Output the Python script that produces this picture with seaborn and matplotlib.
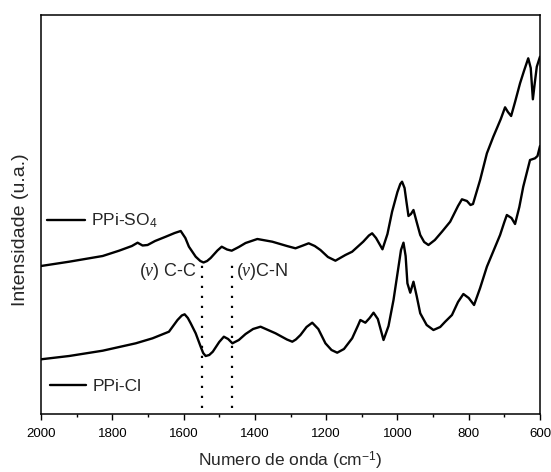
import numpy as np
import pandas as pd
import matplotlib
matplotlib.use("Agg")
import matplotlib.pyplot as plt
import seaborn as sns
from matplotlib.ticker import MultipleLocator

# ---------------- data ----------------
so4_wavenumber = [2000, 1921, 1827, 1781, 1745, 1729, 1715, 1701, 1680, 1650, 1625, 1608,
                  1595, 1585, 1566, 1553, 1544, 1534, 1524, 1505, 1493, 1478, 1465, 1445,
                  1426, 1393, 1351, 1310, 1286, 1265, 1249, 1232, 1216, 1195, 1174, 1146,
                  1127, 1096, 1080, 1071, 1060, 1042, 1028, 1015, 1000, 992, 987, 980,
                  975, 969, 962, 955, 946, 936, 925, 913, 895, 875, 852, 830, 819,
                  805, 795, 788, 768, 749, 731, 721, 710, 698, 690, 681, 670, 656, 645,
                  633, 626, 620, 615, 609, 600]
so4_intensity = [148, 152.3, 158, 163.3, 168, 171.3, 168.5, 169, 173, 177.3, 181, 183,
                 176, 167.3, 157.3, 153, 151.5, 153, 156, 163.5, 167.3, 164.5, 163.3, 167,
                 171, 175, 172.3, 168, 165.7, 168.5, 170.7, 168, 164, 157, 153.3, 159,
                 162.3, 172.3, 178.5, 180.7, 176, 164.7, 180, 202.3, 222, 230, 232.3, 226,
                 213, 198, 200, 204, 192, 179, 172, 169, 174, 182.3, 192.3, 208, 214.7,
                 213, 209, 210, 234, 260.7, 277.3, 285.7, 295, 306.7, 302, 298, 312, 330.7, 343,
                 355.7, 346, 314.7, 330, 347.3, 357.3]

cl_wavenumber = [2000, 1921, 1827, 1734, 1687, 1641, 1617, 1605, 1597, 1588, 1580, 1566,
                 1552, 1545, 1538, 1528, 1518, 1500, 1487, 1475, 1463, 1445, 1426, 1405, 1384,
                 1342, 1310, 1295, 1285, 1272, 1255, 1239, 1222, 1202, 1185, 1169, 1150, 1127,
                 1110, 1104, 1090, 1078, 1067, 1055, 1039, 1025, 1011, 997, 990, 983,
                 977, 972, 964, 955, 946, 936, 918, 899, 880, 866, 847, 830, 815,
                 800, 785, 768, 749, 712, 700, 693, 680, 670, 658, 647, 628, 614, 607, 600]
cl_intensity = [54.7, 58, 63.3, 70.7, 75.7, 82.3, 94, 98.5, 99.7, 96, 90.7, 80.7,
                67.3, 61, 58, 59, 62.3, 72, 77.3, 75, 70.7, 74, 80, 85, 87.3,
                80.7, 74.5, 72.3, 74.5, 79, 87, 91.3, 85, 70.7, 64, 61.3, 65, 75.7,
                89, 94, 91.3, 96, 101.3, 95, 74, 88, 114, 147.3, 164, 171.3,
                158, 130.7, 121.3, 132.3, 118, 100.7, 89, 84, 87, 92.3, 99, 112, 120,
                116, 109, 126, 147.3, 179, 192, 199, 196, 190, 207, 227.3, 254, 255.7, 258, 268]

series_labels = ["PPi-SO$_4$", "PPi-Cl"]
band_positions = [1547, 1465]
band_labels = [r"($\nu$) C-C", r"($\nu$)C-N"]
x_ticks = [2000, 1800, 1600, 1400, 1200, 1000, 800, 600]

df = pd.concat([
    pd.DataFrame({"w": so4_wavenumber, "I": so4_intensity, "s": series_labels[0]}),
    pd.DataFrame({"w": cl_wavenumber, "I": cl_intensity, "s": series_labels[1]}),
])

# ---------------- style ----------------
sns.set_style("white")
plt.rcParams["font.family"] = ["Liberation Sans", "DejaVu Sans"]
plt.rcParams["mathtext.fontset"] = "custom"
plt.rcParams["mathtext.rm"] = "Liberation Sans"
plt.rcParams["mathtext.it"] = "Liberation Serif:italic"
plt.rcParams["mathtext.bf"] = "Liberation Sans:bold"

fig = plt.figure(figsize=(5.51, 4.72), dpi=100)
ax = fig.add_axes([41 / 551, 1 - 414 / 472, 499 / 551, 399 / 472])

sns.lineplot(data=df, x="w", y="I", hue="s", palette=["black", "black"],
             linewidth=1.7, legend=False, ax=ax, estimator=None, sort=True)
for ln in ax.get_lines():
    ln.set_solid_joinstyle("round")

ax.set_xlim(2000, 600)
ax.set_ylim(0, 399)
ax.set_xticks(x_ticks)
ax.xaxis.set_minor_locator(MultipleLocator(100))
ax.set_yticks([])
ax.tick_params(axis="x", which="major", direction="out", length=4, width=1.0,
               labelsize=9.5, pad=6, bottom=True, color="black", labelcolor="black")
ax.tick_params(axis="x", which="minor", direction="out", length=2.5, width=1.0,
               bottom=True, color="black")
for sp in ax.spines.values():
    sp.set_visible(True)
    sp.set_color("black")
    sp.set_linewidth(1.1)

ax.set_xlabel("Numero de onda (cm$^{-1}$)", fontsize=12.5)
ax.xaxis.set_label_coords(0.5, -0.09)
ax.set_ylabel("Intensidade (u.a.)", fontsize=14)
ax.yaxis.set_label_coords(-0.024, 0.461)

# dotted band markers
ax.vlines(band_positions, 6, 153, colors="black", linestyles=(0, (1, 3.5)), linewidth=1.6)
ax.text(1561, 143, band_labels[0], ha="right", va="center", fontsize=13)
ax.text(1454, 143, band_labels[1], ha="left", va="center", fontsize=13)

# legend-like labels
h_so4 = plt.Line2D([], [], color="black", linewidth=1.7)
h_cl = plt.Line2D([], [], color="black", linewidth=1.7)
leg1 = ax.legend(handles=[h_so4], labels=[series_labels[0]], loc="center left",
                 bbox_to_anchor=(0.013, 0.484), frameon=False, fontsize=12.5,
                 handlelength=2.15, handletextpad=0.35, borderpad=0, borderaxespad=0)
ax.add_artist(leg1)
ax.legend(handles=[h_cl], labels=[series_labels[1]], loc="center left",
          bbox_to_anchor=(0.019, 0.070), frameon=False, fontsize=12.5,
          handlelength=2.05, handletextpad=0.4, borderpad=0, borderaxespad=0)

fig.savefig("out.png", dpi=100)
